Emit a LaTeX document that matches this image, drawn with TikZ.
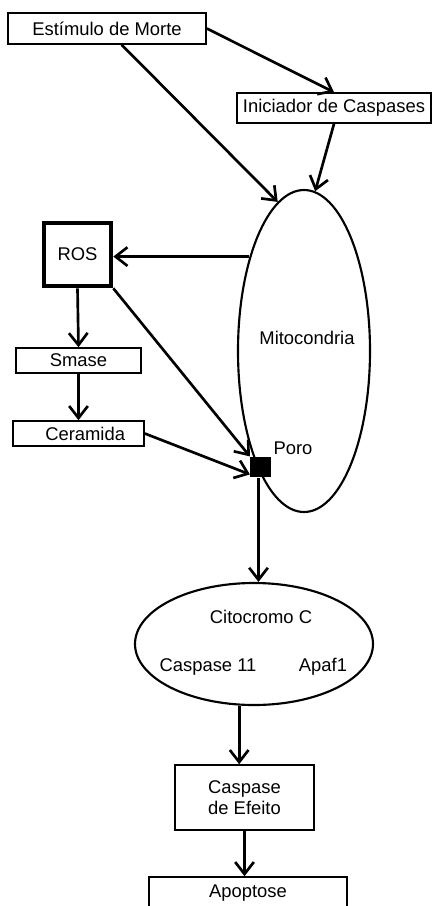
\documentclass[tikz,border=0pt]{standalone}
\usepackage{fontspec}
\setmainfont{Liberation Sans}
\usetikzlibrary{arrows.meta, shapes.geometric}

\begin{document}
\begin{tikzpicture}[x=0.75pt, y=-0.75pt, >={Straight Barb[length=9pt, width=14pt]},
  every node/.style={font=\fontsize{13.8}{15.5}\selectfont, inner sep=0pt},
  box/.style={draw, line width=1.2pt},
  oval/.style={draw, ellipse, line width=1.6pt},
  link/.style={->, line width=2pt}]
  \useasboundingbox (0,0) rectangle (433,906);
  \node[box, minimum width=148.5pt, minimum height=23.25pt] (morte) at (107,28.5) {Estímulo de Morte};
  \node[box, minimum width=145.5pt, minimum height=22.5pt] (iniciador) at (334,108) {Iniciador de Caspases};
  \node[oval, minimum width=99pt, minimum height=241.5pt] (mito) at (304,351) {};
  \node (mitotxt) at (307,338) {Mitocondria};
  \node[draw, line width=3.2pt, minimum width=50.5pt, minimum height=47.5pt] (ros) at (77.5,254.5) {ROS};
  \node[box, minimum width=93.75pt, minimum height=18.75pt] (smase) at (78.5,360.5) {Smase};
  \node[box, minimum width=98.25pt, minimum height=18.75pt, text width=88pt, align=center] (ceramida) at (78.5,433.5) {\hspace*{10pt}Ceramida};
  \node[fill, minimum size=15.5pt] (poro) at (260.5,467) {};
  \node (porotxt) at (293,448) {Poro};
  \node[oval, minimum width=178.5pt, minimum height=91.5pt] (cito) at (254,644) {};
  \node (citotxt) at (261,617) {Citocromo C};
  \node (casp11) at (208,667) {Caspase 11};
  \node (apaf) at (323,667) {Apaf1};
  \node[box, minimum width=104.25pt, minimum height=48.75pt, align=center] (efeito) at (244.5,797.5) {Caspase\\de Efeito};
  \node[box, minimum width=148.5pt, minimum height=24pt] (apoptose) at (248,893) {Apoptose};
  \draw[link] (morte.east) -- (iniciador.north);
  \draw[link] ([xshift=11pt]morte.south) -- (mito.100);
  \draw[link] (iniciador.south) -- (mito.86);
  \draw[link] (mito.120) -- (mito.120 -| ros.east);
  \draw[link] (ros.south) -- (smase.north);
  \draw[link] (smase.south) -- (ceramida.north);
  \draw[link] (ros.south east) -- (poro.north west);
  \draw[link] (ceramida.east) -- (poro.215);
  \draw[link] ([xshift=-1.5pt]poro.south) -- ([xshift=-1.5pt]poro.south |- cito.north);
  \draw[link] ([xshift=-4pt]efeito.north |- cito.south) -- ([xshift=-4pt]efeito.north);
  \draw[link] (efeito.south) -- (efeito.south |- apoptose.north);
\end{tikzpicture}
\end{document}
